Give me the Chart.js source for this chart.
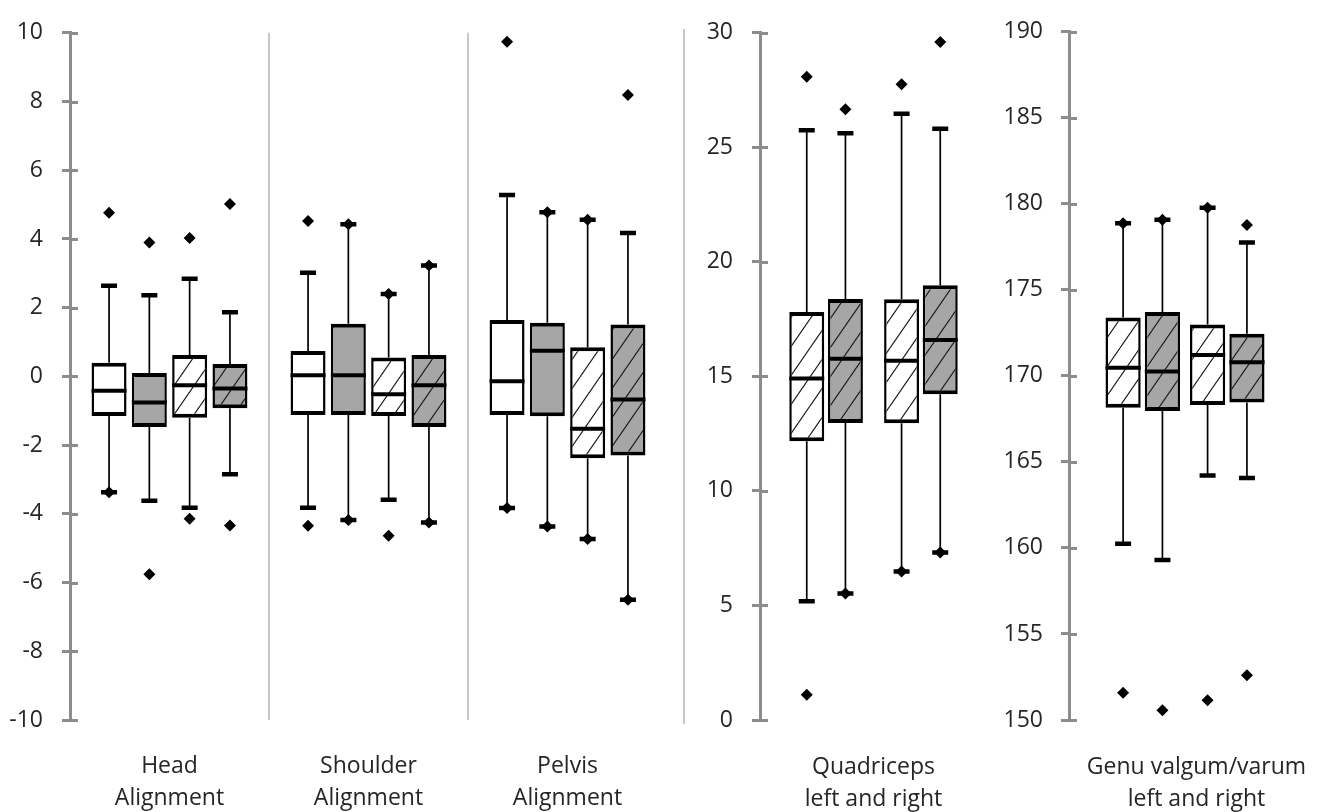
<!DOCTYPE html>
<html>
<head>
<meta charset="utf-8">
<script src="https://cdn.jsdelivr.net/npm/chart.js@4.4.0/dist/chart.umd.min.js"></script>
<style>
html, body { margin: 0; padding: 0; background: #fff; overflow: hidden; width: 1321px; height: 812px; }
canvas { position: absolute; top: 0; }
#sep { position: absolute; left: 683px; top: 29px; width: 2px; height: 695px; background: #c8c8c8; }
</style>
</head>
<body>
<canvas id="cA" width="667" height="812" style="left:0px"></canvas>
<div id="sep"></div>
<canvas id="cB" width="297" height="812" style="left:690px"></canvas>
<canvas id="cC" width="324" height="812" style="left:1000px"></canvas>
<script>
// ---------- DATA ----------
const seriesNames = ['Group 1', 'Group 2', 'Group 1 (hatched)', 'Group 2 (hatched)'];

// Left panel: rows = series, columns = groups
const alignGroups = [['Head', 'Alignment'], ['Shoulder', 'Alignment'], ['Pelvis', 'Alignment']];
const alignLow     = [[-3.37, -3.82, -3.83], [-3.62, -4.18, -4.37], [-3.82, -3.59, -4.73], [-2.85, -4.25, -6.50]];
const alignQ1      = [[-1.15, -1.12, -1.12], [-1.47, -1.12, -1.16], [-1.20, -1.15, -2.38], [-0.93, -1.47, -2.30]];
const alignMed     = [[-0.42, 0.03, -0.14], [-0.76, 0.03, 0.75], [-0.26, -0.52, -1.52], [-0.35, -0.26, -0.67]];
const alignQ3      = [[0.40, 0.74, 1.64], [0.10, 1.53, 1.56], [0.62, 0.55, 0.85], [0.36, 0.62, 1.51]];
const alignHigh    = [[2.64, 3.02, 5.28], [2.36, 4.43, 4.78], [2.84, 2.40, 4.56], [1.87, 3.23, 4.17]];
const alignOutHigh = [[4.76, 4.52, 9.74], [3.90, 4.43, 4.78], [4.03, 2.40, 4.56], [5.02, 3.23, 8.19]];
const alignOutLow  = [[-3.37, -4.35, -3.83], [-5.76, -4.18, -4.37], [-4.14, -4.64, -4.73], [-4.34, -4.25, -6.50]];
const alignTicks   = { min: -10, max: 10, step: 2 };

// Quadriceps: rows = hatched series, columns = side
const sides = ['left', 'right'];
const quadTitle   = ['Quadriceps', 'left and right'];
const quadLow     = [[5.18, 6.48], [5.52, 7.31]];
const quadQ1      = [[12.17, 12.96], [12.97, 14.22]];
const quadMed     = [[14.91, 15.68], [15.77, 16.59]];
const quadQ3      = [[17.81, 18.37], [18.38, 18.98]];
const quadHigh    = [[25.75, 26.47], [25.61, 25.81]];
const quadOutHigh = [[28.08, 27.75], [26.66, 29.60]];
const quadOutLow  = [[1.10, 6.48], [5.52, 7.31]];
const quadTicks   = { min: 0, max: 30, step: 5 };

// Genu valgum/varum
const genuTitle   = ['Genu valgum/varum', 'left and right'];
const genuLow     = [[160.25, 164.21], [159.30, 164.06]];
const genuQ1      = [[168.15, 168.31], [167.96, 168.45]];
const genuMed     = [[170.48, 171.22], [170.26, 170.80]];
const genuQ3      = [[173.39, 172.99], [173.71, 172.45]];
const genuHigh    = [[178.87, 179.77], [179.08, 177.76]];
const genuOutHigh = [[178.87, 179.77], [179.08, 178.77]];
const genuOutLow  = [[151.59, 151.15], [150.57, 152.60]];
const genuTicks   = { min: 150, max: 190, step: 5 };

// ---------- STYLE ----------
const FONT = "'Open Sans', sans-serif";
const TEXT = '#262626';
const AXIS = '#8c8c8c';
const GRAY = '#a6a6a6';

function hatch(bg) {
  const c = document.createElement('canvas');
  c.width = 20; c.height = 29;
  const g = c.getContext('2d');
  g.fillStyle = bg; g.fillRect(0, 0, 20, 29);
  g.strokeStyle = '#1a1a1a'; g.lineWidth = 1.2;
  g.beginPath();
  for (const dx of [-20, 0, 20]) { g.moveTo(dx, 29); g.lineTo(dx + 20, 0); }
  g.stroke();
  return g.createPattern(c, 'repeat');
}
const fills = ['#ffffff', GRAY, hatch('#ffffff'), hatch(GRAY)];

Chart.defaults.font.family = FONT;
Chart.defaults.color = TEXT;

const boxPlugin = {
  id: 'boxDetails',
  afterDatasetsDraw(chart) {
    const ctx = chart.ctx;
    const ys = chart.scales.y;
    const px = v => ys.getPixelForValue(v);
    chart.data.datasets.forEach((ds, d) => {
      const st = ds.boxStats;
      if (!st) return;
      const meta = chart.getDatasetMeta(d);
      meta.data.forEach((bar, i) => {
        const x = bar.x, hw = bar.width / 2;
        ctx.save();
        ctx.strokeStyle = '#000';
        // whiskers
        ctx.lineWidth = 1.7;
        ctx.beginPath();
        ctx.moveTo(x, px(st.q3[i])); ctx.lineTo(x, px(st.high[i]));
        ctx.moveTo(x, px(st.q1[i])); ctx.lineTo(x, px(st.low[i]));
        ctx.stroke();
        // caps
        ctx.lineWidth = 4.5;
        ctx.beginPath();
        ctx.moveTo(x - 8, px(st.high[i])); ctx.lineTo(x + 8, px(st.high[i]));
        ctx.moveTo(x - 8, px(st.low[i])); ctx.lineTo(x + 8, px(st.low[i]));
        ctx.stroke();
        // median
        ctx.lineWidth = 4;
        ctx.beginPath();
        ctx.moveTo(x - hw, px(st.med[i])); ctx.lineTo(x + hw, px(st.med[i]));
        ctx.stroke();
        // outliers (diamonds)
        ctx.fillStyle = '#000';
        [st.outHigh[i], st.outLow[i]].forEach(v => {
          if (v === null || v === undefined) return;
          const yy = px(v), r = 6;
          ctx.beginPath();
          ctx.moveTo(x, yy - r); ctx.lineTo(x + r, yy); ctx.lineTo(x, yy + r); ctx.lineTo(x - r, yy);
          ctx.closePath(); ctx.fill();
        });
        ctx.restore();
      });
    });
  }
};

const innerTicks = {
  id: 'innerTicks',
  afterDraw(chart) {
    const s = chart.scales.y, ctx = chart.ctx;
    ctx.save();
    ctx.strokeStyle = AXIS; ctx.lineWidth = 3;
    ctx.beginPath();
    s.ticks.forEach((t, i) => {
      const yy = Math.round(s.getPixelForTick(i)) + 0.5;
      ctx.moveTo(s.right, yy); ctx.lineTo(s.right + 8, yy);
    });
    ctx.stroke();
    ctx.restore();
  }
};

function yScale(t, width, pad) {
  return {
    min: t.min, max: t.max,
    ticks: { stepSize: t.step, padding: pad, font: { size: 23, family: FONT }, color: TEXT },
    grid: { drawOnChartArea: false, drawTicks: true, tickLength: 8, color: AXIS, lineWidth: 3 },
    border: { display: true, color: AXIS, width: 3 },
    afterFit: s => { s.width = width; }
  };
}

function stats(s, low, q1, med, q3, high, oh, ol) {
  return { low: low[s], q1: q1[s], med: med[s], q3: q3[s], high: high[s], outHigh: oh[s], outLow: ol[s] };
}

const commonPlugins = { legend: { display: false }, tooltip: { enabled: false } };
const BOX_BORDER = { top: 4, bottom: 4, left: 2.5, right: 2.5 };

// ---------- CHART A: alignment ----------
new Chart(document.getElementById('cA'), {
  type: 'bar',
  data: {
    labels: alignGroups,
    datasets: seriesNames.map((name, s) => ({
      label: name,
      data: alignQ1[s].map((v, i) => [v, alignQ3[s][i]]),
      backgroundColor: fills[s],
      borderColor: '#000',
      borderWidth: BOX_BORDER,
      borderSkipped: false,
      categoryPercentage: 0.81,
      barPercentage: 0.868,
      boxStats: stats(s, alignLow, alignQ1, alignMed, alignQ3, alignHigh, alignOutHigh, alignOutLow)
    }))
  },
  options: {
    responsive: false, animation: false,
    layout: { padding: { top: 23, right: 0, bottom: 0, left: 0 } },
    plugins: commonPlugins,
    scales: {
      x: {
        grid: { display: true, drawTicks: false, offset: true, lineWidth: 2,
                color: c => (c.index === 1 || c.index === 2) ? '#c8c8c8' : 'rgba(0,0,0,0)' },
        border: { display: false },
        ticks: { padding: 30, maxRotation: 0, autoSkip: false, color: TEXT,
                 font: { size: 23, family: FONT, lineHeight: 1.39 } },
        afterFit: s => { s.height = 92; }
      },
      y: yScale(alignTicks, 70, 19)
    }
  },
  plugins: [boxPlugin, innerTicks]
});

// ---------- CHART B / C: left & right ----------
function sideChart(id, title, low, q1, med, q3, high, oh, ol, ticks, xmin, xmax, yWidth, yPad, catPct, barPct) {
  new Chart(document.getElementById(id), {
    type: 'bar',
    data: {
      datasets: [2, 3].map((fs, s) => ({
        label: seriesNames[fs],
        data: sides.map((side, i) => ({ x: i, y: [q1[s][i], q3[s][i]] })),
        backgroundColor: fills[fs],
        borderColor: '#000',
        borderWidth: BOX_BORDER,
        borderSkipped: false,
        categoryPercentage: catPct,
        barPercentage: barPct,
        boxStats: stats(s, low, q1, med, q3, high, oh, ol)
      }))
    },
    options: {
      responsive: false, animation: false,
      layout: { padding: { top: 23, right: 0, bottom: 0, left: 0 } },
      plugins: commonPlugins,
      scales: {
        x: {
          type: 'linear', min: xmin, max: xmax, offset: false,
          ticks: { display: false, stepSize: 1, includeBounds: false },
          grid: { display: false },
          border: { display: false },
          title: { display: true, text: title, color: TEXT,
                   font: { size: 23, family: FONT, lineHeight: 1.39 },
                   padding: { top: 0, bottom: -3 } },
          afterFit: s => { s.height = 92; }
        },
        y: yScale(ticks, yWidth, yPad)
      }
    },
    plugins: [boxPlugin, innerTicks]
  });
}

sideChart('cB', quadTitle, quadLow, quadQ1, quadMed, quadQ3, quadHigh, quadOutHigh, quadOutLow,
          quadTicks, -0.697, 1.697, 70, 19, 0.816, 0.903);
sideChart('cC', genuTitle, genuLow, genuQ1, genuMed, genuQ3, genuHigh, genuOutHigh, genuOutLow,
          genuTicks, -0.873, 2.145, 69, 18, 0.931, 0.895);
</script>
</body>
</html>
